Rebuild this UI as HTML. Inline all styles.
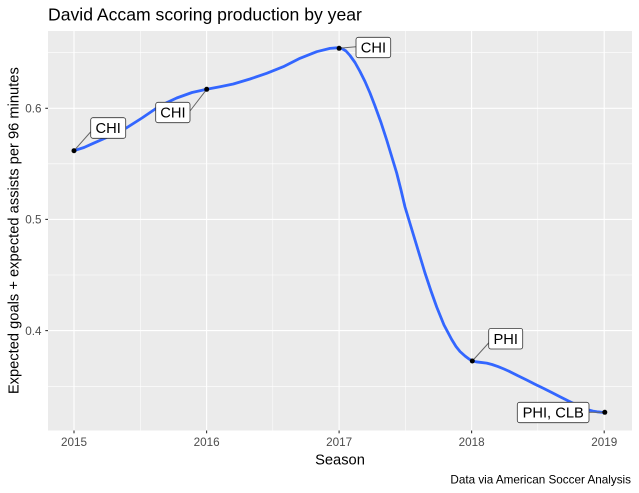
<!DOCTYPE html>
<html>
<head>
<meta charset="utf-8">
<style>
  html, body { margin: 0; padding: 0; background: #ffffff; }
  svg { display: block; }
  text { font-family: "Liberation Sans", Arial, sans-serif; }
</style>
</head>
<body>
<svg width="639" height="493" viewBox="0 0 639 493" xmlns="http://www.w3.org/2000/svg">
  <rect x="0" y="0" width="639" height="493" fill="#ffffff"/>

  <!-- Title -->
  <text x="48" y="20.7" font-size="17.6" fill="#000000">David Accam scoring production by year</text>

  <!-- Panel -->
  <rect x="48" y="31" width="584" height="399.5" fill="#EBEBEB"/>

  <!-- Minor grid -->
  <g stroke="#ffffff" stroke-width="0.55" fill="none">
    <line x1="48" x2="632" y1="52.7" y2="52.7"/>
    <line x1="48" x2="632" y1="163.8" y2="163.8"/>
    <line x1="48" x2="632" y1="275" y2="275"/>
    <line x1="48" x2="632" y1="386.3" y2="386.3"/>
    <line x1="140.3" x2="140.3" y1="31" y2="430.5"/>
    <line x1="272.8" x2="272.8" y1="31" y2="430.5"/>
    <line x1="405.3" x2="405.3" y1="31" y2="430.5"/>
    <line x1="537.8" x2="537.8" y1="31" y2="430.5"/>
  </g>
  <!-- Major grid -->
  <g stroke="#ffffff" stroke-width="1.1" fill="none">
    <line x1="48" x2="632" y1="108.3" y2="108.3"/>
    <line x1="48" x2="632" y1="219.4" y2="219.4"/>
    <line x1="48" x2="632" y1="330.6" y2="330.6"/>
    <line x1="74" x2="74" y1="31" y2="430.5"/>
    <line x1="206.6" x2="206.6" y1="31" y2="430.5"/>
    <line x1="339.1" x2="339.1" y1="31" y2="430.5"/>
    <line x1="471.6" x2="471.6" y1="31" y2="430.5"/>
    <line x1="604.2" x2="604.2" y1="31" y2="430.5"/>
  </g>

  <!-- Smooth line -->
  <polyline fill="none" stroke="#3366FF" stroke-width="2.8" stroke-linejoin="round" stroke-linecap="butt"
    points="74,150.7 84,147.5 93.3,143.3 110,136 126.7,127.7 142,118 156.7,108 167,102.5 176.7,98 192,92.5 206.7,89.3 220,86.8 233.3,84 250,79 266.7,73.3 283.3,66.7 300,58.3 316.7,51.7 330,48.4 337,47.8 342,48.6 346,51 350,55.5 355,62.5 360,71.5 365,81.5 370,93 375,106 381,122.5 386.7,140 391.7,156.5 396.7,173 401,190 405,207 410,223.5 415,240 420,256.5 425,273 431,291 436.7,307 444,325 451.7,339.5 456,346.5 460,351.5 465,356 469,359 472.3,360.8 476,361.8 480,362.3 486.7,363.1 492,364.5 498,366.6 504,369 510,371.7 518,375.8 526.7,380 535,384.2 543.3,388.3 552,392.6 560,396.7 568,400.8 576.7,405 583,407.8 588.3,409.9 593,411.1 597,411.8 601,412.2 605,412.3"/>

  <!-- Label segments -->
  <g stroke="#666666" stroke-width="1" fill="none">
    <line x1="74" y1="150.7" x2="91" y2="131.5"/>
    <line x1="206.7" y1="89.3" x2="190" y2="111"/>
    <line x1="339" y1="48.3" x2="356" y2="46.8"/>
    <line x1="472.3" y1="361" x2="489.5" y2="342"/>
    <line x1="589" y1="412.3" x2="605" y2="412.3"/>
  </g>

  <!-- Labels -->
  <g fill="#ffffff" stroke="#333333" stroke-width="0.8">
    <rect x="90.7" y="117.7" width="35" height="20.6" rx="2.3" ry="2.3"/>
    <rect x="155.7" y="102.3" width="34.3" height="20.4" rx="2.3" ry="2.3"/>
    <rect x="356" y="37.3" width="34.7" height="20.4" rx="2.3" ry="2.3"/>
    <rect x="488.7" y="328.4" width="34" height="20.6" rx="2.3" ry="2.3"/>
    <rect x="517.3" y="402.3" width="71.7" height="20.4" rx="2.3" ry="2.3"/>
  </g>
  <g font-size="14.7" fill="#000000" text-anchor="middle">
    <text x="108.2" y="133.2">CHI</text>
    <text x="172.9" y="117.7">CHI</text>
    <text x="373.4" y="52.7">CHI</text>
    <text x="505.7" y="343.9">PHI</text>
    <text x="553.2" y="417.7">PHI, CLB</text>
  </g>

  <!-- Points -->
  <g fill="#000000">
    <circle cx="74" cy="150.7" r="2.5"/>
    <circle cx="206.7" cy="89.3" r="2.5"/>
    <circle cx="339.1" cy="48.3" r="2.5"/>
    <circle cx="472.3" cy="361" r="2.5"/>
    <circle cx="604.8" cy="412.3" r="2.5"/>
  </g>

  <!-- Ticks -->
  <g stroke="#333333" stroke-width="1.1">
    <line x1="45.3" x2="48" y1="108.3" y2="108.3"/>
    <line x1="45.3" x2="48" y1="219.4" y2="219.4"/>
    <line x1="45.3" x2="48" y1="330.6" y2="330.6"/>
    <line x1="74" x2="74" y1="430.5" y2="433.3"/>
    <line x1="206.6" x2="206.6" y1="430.5" y2="433.3"/>
    <line x1="339.1" x2="339.1" y1="430.5" y2="433.3"/>
    <line x1="471.6" x2="471.6" y1="430.5" y2="433.3"/>
    <line x1="604.2" x2="604.2" y1="430.5" y2="433.3"/>
  </g>

  <!-- Y tick labels -->
  <g font-size="11.7" fill="#4D4D4D" text-anchor="end">
    <text x="41.5" y="112.5">0.6</text>
    <text x="41.5" y="223.6">0.5</text>
    <text x="41.5" y="334.8">0.4</text>
  </g>
  <!-- X tick labels -->
  <g font-size="11.7" fill="#4D4D4D" text-anchor="middle">
    <text x="74" y="445.8">2015</text>
    <text x="206.6" y="445.8">2016</text>
    <text x="339.1" y="445.8">2017</text>
    <text x="471.6" y="445.8">2018</text>
    <text x="604.2" y="445.8">2019</text>
  </g>

  <!-- Axis titles -->
  <text x="340" y="464.5" font-size="14.7" fill="#000000" text-anchor="middle">Season</text>
  <text transform="translate(18.6,230.7) rotate(-90)" font-size="14.7" fill="#000000" text-anchor="middle">Expected goals + expected assists per 96 minutes</text>

  <!-- Caption -->
  <text x="631" y="483.3" font-size="11.7" fill="#000000" text-anchor="end">Data via American Soccer Analysis</text>
</svg>
</body>
</html>
